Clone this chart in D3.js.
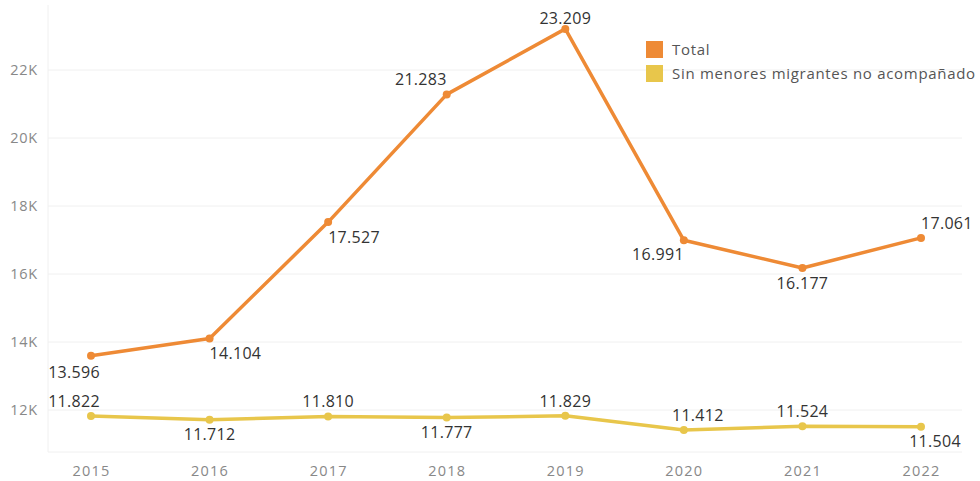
<!DOCTYPE html>
<html>
<head>
<meta charset="utf-8">
<script src="https://cdn.jsdelivr.net/npm/d3@7"></script>
<style>
  html, body { margin: 0; padding: 0; background: #fff; }
  svg { display: block; }
  text { font-family: "Open Sans", sans-serif; }
</style>
</head>
<body>
<svg id="chart" width="980" height="481"></svg>
<script>
// ---- data ----
const years = ["2015", "2016", "2017", "2018", "2019", "2020", "2021", "2022"];
const totalValues = [13596, 14104, 17527, 21283, 23209, 16991, 16177, 17061];
const sinMenoresValues = [11822, 11712, 11810, 11777, 11829, 11412, 11524, 11504];
const seriesNames = ["Total", "Sin menores migrantes no acompañado"];
const yTicks = [12000, 14000, 16000, 18000, 20000, 22000];

// ---- label placement (style only) ----
const totalLabelPos = [
  {anchor: "middle", dx: -17, dy: 22},
  {anchor: "start", dx: 0, dy: 21},
  {anchor: "start", dx: 0, dy: 21},
  {anchor: "end", dx: 0, dy: -9},
  {anchor: "middle", dx: 0, dy: -5},
  {anchor: "end", dx: 0, dy: 20},
  {anchor: "middle", dx: 0, dy: 21},
  {anchor: "start", dx: 0, dy: -9}
];
const sinLabelPos = [
  {anchor: "middle", dx: -17, dy: -9},
  {anchor: "middle", dx: 0, dy: 20},
  {anchor: "middle", dx: 0, dy: -9},
  {anchor: "middle", dx: 0, dy: 20},
  {anchor: "middle", dx: 0, dy: -9},
  {anchor: "middle", dx: 14, dy: -9},
  {anchor: "middle", dx: 0, dy: -9},
  {anchor: "middle", dx: 14, dy: 20}
];

const colors = ["#ee8a35", "#e8c64b"];

const svg = d3.select("#chart");
const plot = {left: 48, right: 962, top: 5, bottom: 452};

const x = d3.scalePoint().domain(years).range([91, 921]);
const y = d3.scaleLinear()
  .domain([12000 - (452 - 410) / 0.034, 12000 + (410 - 5) / 0.034])
  .range([plot.bottom, plot.top]);

// gridlines
svg.append("g").selectAll("line").data(yTicks).join("line")
  .attr("x1", plot.left).attr("x2", plot.right)
  .attr("y1", d => y(d)).attr("y2", d => y(d))
  .attr("stroke", "#f0f0f0").attr("stroke-width", 1);

// frame lines
svg.append("line").attr("x1", plot.left).attr("x2", plot.left)
  .attr("y1", plot.top).attr("y2", plot.bottom)
  .attr("stroke", "#f0f0f0");
svg.append("line").attr("x1", plot.left).attr("x2", plot.right)
  .attr("y1", plot.bottom).attr("y2", plot.bottom)
  .attr("stroke", "#f0f0f0");

// y axis
const yAxis = d3.axisLeft(y).tickValues(yTicks).tickSize(0).tickPadding(10)
  .tickFormat(d => (d / 1000) + "K");
const gy = svg.append("g").attr("transform", `translate(${plot.left},0)`).call(yAxis);
gy.select(".domain").remove();
gy.selectAll("text").attr("fill", "#888").style("font-size", "14.5px")
  .style("letter-spacing", "0.8px")
  .style("font-family", "'Open Sans', sans-serif");

// x axis
const xAxis = d3.axisBottom(x).tickSize(0).tickPadding(14);
const gx = svg.append("g").attr("transform", `translate(0,${plot.bottom})`).call(xAxis);
gx.select(".domain").remove();
gx.selectAll("text").attr("fill", "#888").style("font-size", "14.5px")
  .style("letter-spacing", "1.2px")
  .style("font-family", "'Open Sans', sans-serif");

const fmt = v => d3.format(",")(v).replace(/,/g, ".");

function drawSeries(values, color, pos) {
  const data = years.map((yr, i) => ({yr, v: values[i], p: pos[i]}));
  const line = d3.line().x(d => x(d.yr)).y(d => y(d.v));
  svg.append("path").datum(data).attr("d", line)
    .attr("fill", "none").attr("stroke", color).attr("stroke-width", 3.5)
    .attr("stroke-linejoin", "round");
  svg.append("g").selectAll("circle").data(data).join("circle")
    .attr("cx", d => x(d.yr)).attr("cy", d => y(d.v)).attr("r", 4)
    .attr("fill", color);
  svg.append("g").selectAll("text").data(data).join("text")
    .attr("x", d => x(d.yr) + d.p.dx).attr("y", d => y(d.v) + d.p.dy)
    .attr("text-anchor", d => d.p.anchor)
    .attr("fill", "#333").style("font-size", "16px")
    .style("letter-spacing", "0.3px")
    .text(d => fmt(d.v));
}

drawSeries(sinMenoresValues, colors[1], sinLabelPos);
drawSeries(totalValues, colors[0], totalLabelPos);

// legend
const lg = svg.append("g");
seriesNames.forEach((name, i) => {
  lg.append("rect").attr("x", 646).attr("y", 41 + i * 24).attr("width", 17).attr("height", 17)
    .attr("fill", colors[i]);
  lg.append("text").attr("x", 672).attr("y", 55 + i * 24)
    .attr("fill", "#555").style("font-size", "15px")
    .style("letter-spacing", "0.7px").text(name);
});
</script>
</body>
</html>
